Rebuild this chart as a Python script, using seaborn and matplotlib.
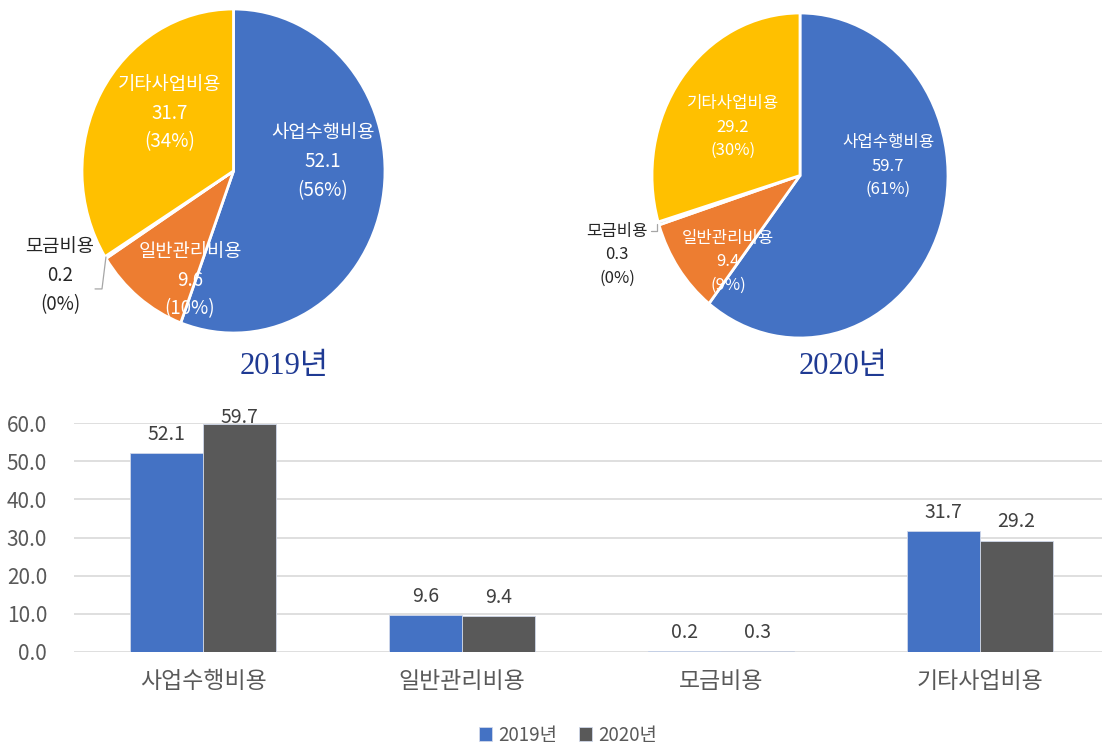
import numpy as np
import pandas as pd
import matplotlib
matplotlib.use('Agg')
import matplotlib.pyplot as plt
import seaborn as sns

# data
categories = ['사업수행비용', '일반관리비용', '모금비용', '기타사업비용']
values_2019 = [52.1, 9.6, 0.2, 31.7]
values_2020 = [59.7, 9.4, 0.3, 29.2]
pct_2019 = [56, 10, 0, 34]
pct_2020 = [61, 9, 0, 30]
years = ['2019년', '2020년']

# styles
pie_colors = ['#4472C4', '#ED7D31', '#A5A5A5', '#FFC000']
bar_colors = ['#4472C4', '#595959']
label_colors = ['white', 'white', '#262626', 'white']
title_color = '#1F3A93'
tick_color = '#595959'

sns.set_theme(style='white')
plt.rcParams['font.family'] = ['Noto Sans CJK KR', 'DejaVu Sans']

W, H = 1102, 747
fig = plt.figure(figsize=(W / 100, H / 100), dpi=100)


def px_axes(cx, cy, rx, ry, pad=1.05):
    # axes centred on pixel (cx, cy), limits -pad..pad (pie is slightly stretched)
    sx, sy = rx * pad, ry * pad
    return fig.add_axes([(cx - sx) / W, 1 - (cy + sy) / H, 2 * sx / W, 2 * sy / H])


def draw_pie(ax, vals, pcts, label_pos, fsize, lsp, leader):
    ax.pie(vals, colors=pie_colors, startangle=90, counterclock=False,
           wedgeprops=dict(edgecolor='white', linewidth=2))
    ax.set_xlim(-1.05, 1.05)
    ax.set_ylim(-1.05, 1.05)
    ax.set_aspect('auto')
    ax.axis('off')
    for cat, v, p, (x, y), c in zip(categories, vals, pcts, label_pos, label_colors):
        ax.text(x, y, f'{cat}\n{v}\n({p}%)', ha='center', va='center',
                fontsize=fsize, color=c, linespacing=lsp, clip_on=False)
    lx, ly = zip(*leader)
    ax.plot(lx, ly, color='#A6A6A6', lw=0.9, clip_on=False)


title_font = ['Liberation Serif', 'Noto Sans CJK KR']

# 2019 pie
ax1 = px_axes(233.5, 171, 151.5, 162)
draw_pie(ax1, values_2019, pct_2019,
         [(0.59, 0.056), (-0.287, -0.673), (-1.145, -0.648), (-0.419, 0.358)],
         13.5, 1.5,
         [(-0.842, -0.531), (-0.868, -0.728), (-0.914, -0.728)])
fig.text(284 / W, 1 - 366 / H, years[0], ha='center', va='center', fontsize=22,
         color=title_color, family=title_font)

# 2020 pie
ax2 = px_axes(800, 175.5, 148, 162.5)
draw_pie(ax2, values_2020, pct_2020,
         [(0.595, 0.058), (-0.486, -0.532), (-1.236, -0.489), (-0.453, 0.298)],
         12, 1.5,
         [(-1.007, -0.342), (-0.966, -0.342), (-0.966, -0.298)])
fig.text(843 / W, 1 - 367 / H, years[1], ha='center', va='center', fontsize=22,
         color=title_color, family=title_font)

# bar chart
df = pd.DataFrame({
    'category': categories * 2,
    'year': [years[0]] * 4 + [years[1]] * 4,
    'value': values_2019 + values_2020,
})
ax3 = fig.add_axes([73.5 / W, 1 - 652 / H, 1036 / W, 229 / H])
sns.barplot(data=df, x='category', y='value', hue='year', palette=bar_colors,
            width=0.565, saturation=1, ax=ax3, edgecolor='#D0D8EA', linewidth=0.6)
ymax = 60
for cont in ax3.containers:
    anns = ax3.bar_label(cont, fmt='%.1f', padding=6, fontsize=14, color='#404040')
    # labels that would stick out above the plot area get pulled down (like Excel)
    for bar, ann in zip(cont, anns):
        if bar.get_height() > ymax - 3:
            ann.xyann = (0, -3)
ax3.set_xlim(-0.5, 3.5)
ax3.set_ylim(0, ymax)
ax3.set_yticks(np.arange(0, ymax + 1, 10))
ax3.set_yticklabels([f'{t:.1f}' for t in np.arange(0, ymax + 1, 10)])
ax3.set_axisbelow(True)
ax3.yaxis.grid(True, color='#D9D9D9', lw=1.2)
ax3.xaxis.grid(False)
for s in ax3.spines.values():
    s.set_visible(False)
ax3.tick_params(axis='y', labelsize=15, labelcolor=tick_color, pad=19, length=0)
ax3.tick_params(axis='x', labelsize=16.5, labelcolor=tick_color, pad=13, length=0)
ax3.set_xlabel('')
ax3.set_ylabel('')
ax3.legend_.remove()
handles, labels = ax3.get_legend_handles_labels()
leg = fig.legend(handles, labels, loc='center', bbox_to_anchor=(568 / W, 1 - 735 / H),
                 ncol=2, frameon=False, fontsize=13.5, handlelength=0.7,
                 handleheight=0.7, handletextpad=0.3, columnspacing=1.2)
for t in leg.get_texts():
    t.set_color(tick_color)

fig.savefig('out.png', dpi=100)
